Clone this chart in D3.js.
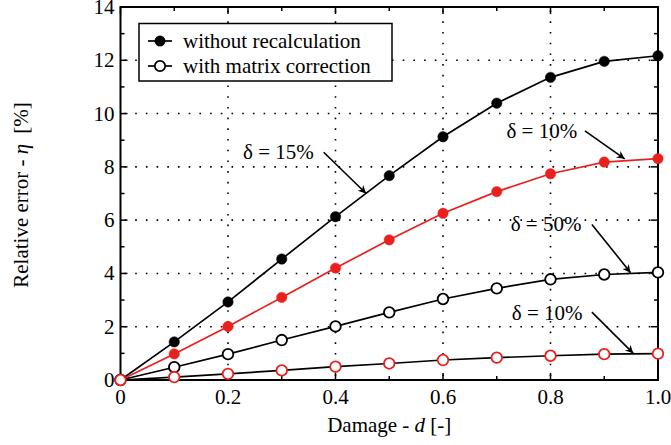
<!DOCTYPE html>
<html><head><meta charset="utf-8">
<script src="https://cdn.jsdelivr.net/npm/d3@7"></script>
<style>body{margin:0;background:#fff}svg{display:block}</style>
</head><body><svg id="c" width="671" height="445" font-family="'Liberation Serif', Tinos, 'Times New Roman', Times, 'DejaVu Serif', serif"></svg>
<script>
const damage = [0,0.1,0.2,0.3,0.4,0.5,0.6,0.7,0.8,0.9,1.0];
const withoutRecalc15 = [0,1.43,2.93,4.54,6.13,7.67,9.13,10.39,11.36,11.96,12.17];
const withoutRecalc10 = [0,0.98,2.01,3.1,4.2,5.26,6.26,7.07,7.74,8.18,8.31];
const matrixCorr50 = [0,0.48,0.97,1.5,2.01,2.54,3.04,3.44,3.78,3.96,4.04];
const matrixCorr10 = [0,0.11,0.23,0.36,0.5,0.62,0.75,0.84,0.91,0.97,0.99];
const xTicks = [0,0.2,0.4,0.6,0.8,1.0];
const xTickLabels = ["0","0.2","0.4","0.6","0.8","1.0"];
const yTicks = [0,2,4,6,8,10,12,14];
const legendLabels = ["without recalculation","with matrix correction"];
const annotations = [
  {label:"δ = 15%", tx:0.228, ty:8.55, ax0:0.378, ay0:8.55, ax1:0.457, ay1:7.0},
  {label:"δ = 10%", tx:0.718, ty:9.35, ax0:0.864, ay0:9.35, ax1:0.938, ay1:8.3},
  {label:"δ = 50%", tx:0.726, ty:5.84, ax0:0.877, ay0:5.84, ax1:0.949, ay1:4.03},
  {label:"δ = 10%", tx:0.728, ty:2.53, ax0:0.877, ay0:2.55, ax1:0.954, ay1:1.0}
];

const svg = d3.select("#c");
const L=120.5, R=658, T=7, B=380;
const x = d3.scaleLinear().domain([0,1]).range([L,R]);
const y = d3.scaleLinear().domain([0,14]).range([B,T]);
const FS = 21;

// grid
const g = svg.append("g");
xTicks.slice(1,-1).forEach(v=>{
  g.append("line").attr("x1",x(v)).attr("x2",x(v)).attr("y1",B).attr("y2",T)
   .attr("stroke","#000").attr("stroke-width",1.6).attr("stroke-dasharray","1.6,9.1").attr("stroke-dashoffset",-4);
});
yTicks.slice(1,-1).forEach(v=>{
  g.append("line").attr("x1",L).attr("x2",R).attr("y1",y(v)).attr("y2",y(v))
   .attr("stroke","#000").attr("stroke-width",1.6).attr("stroke-dasharray","1.6,9.1").attr("stroke-dashoffset",-4);
});

// ticks inside, mirrored
const tk = svg.append("g").attr("stroke","#000").attr("stroke-width",1.5);
d3.range(0,1.0001,0.1).forEach(v=>{
  const major = Math.abs(Math.round(v*10)%2)===0;
  const len = major?7:4;
  tk.append("line").attr("x1",x(v)).attr("x2",x(v)).attr("y1",B).attr("y2",B-len);
  tk.append("line").attr("x1",x(v)).attr("x2",x(v)).attr("y1",T).attr("y2",T+len);
});
d3.range(0,14.001,1).forEach(v=>{
  const major = v%2===0;
  const len = major?7:4;
  tk.append("line").attr("x1",L).attr("x2",L+len).attr("y1",y(v)).attr("y2",y(v));
  tk.append("line").attr("x1",R).attr("x2",R-len).attr("y1",y(v)).attr("y2",y(v));
});

// frame
svg.append("rect").attr("x",L).attr("y",T).attr("width",R-L).attr("height",B-T)
  .attr("fill","none").attr("stroke","#000").attr("stroke-width",2);

// tick labels
xTicks.forEach((v,i)=>{
  svg.append("text").attr("x",x(v)).attr("y",B+23.5).attr("text-anchor","middle").attr("font-size",FS).text(xTickLabels[i]);
});
yTicks.forEach(v=>{
  svg.append("text").attr("x",L-6).attr("y",y(v)+7).attr("text-anchor","end").attr("font-size",FS).text(v);
});

// axis titles
const xt = svg.append("text").attr("x",(L+R)/2).attr("y",432).attr("text-anchor","middle").attr("font-size",FS);
xt.append("tspan").text("Damage - ");
xt.append("tspan").attr("font-style","italic").text("d");
xt.append("tspan").text(" [-]");
const yt = svg.append("text").attr("transform",`translate(28,195) rotate(-90)`).attr("text-anchor","middle").attr("font-size",FS);
yt.append("tspan").text("Relative error - ");
yt.append("tspan").attr("font-style","italic").text("η");
yt.append("tspan").attr("dx",10).text("[%]");

// series
const line = d3.line().x((d,i)=>x(damage[i])).y(d=>y(d));
const series = [
  {data:withoutRecalc15, lineColor:"#000", fill:"#000", stroke:"#000"},
  {data:withoutRecalc10, lineColor:"#e8201e", fill:"#e8201e", stroke:"#e8201e"},
  {data:matrixCorr50, lineColor:"#000", fill:"#fff", stroke:"#000"},
  {data:matrixCorr10, lineColor:"#000", fill:"#fff", stroke:"#e8201e"}
];
series.forEach(s=>{
  svg.append("path").attr("d",line(s.data)).attr("fill","none").attr("stroke",s.lineColor).attr("stroke-width",1.7);
});
series.forEach(s=>{
  const open = s.fill==="#fff";
  svg.append("g").selectAll("circle").data(s.data).join("circle")
    .attr("cx",(d,i)=>x(damage[i])).attr("cy",d=>y(d)).attr("r",open?5.3:5.2)
    .attr("fill",s.fill).attr("stroke",s.stroke).attr("stroke-width",open?1.8:0.5);
});

// annotations
const defs = svg.append("defs");
defs.append("marker").attr("id","ah").attr("viewBox","0 0 10 10").attr("refX",10).attr("refY",5)
  .attr("markerWidth",13).attr("markerHeight",8).attr("markerUnits","userSpaceOnUse").attr("orient","auto")
  .append("path").attr("d","M0,0 L10,5 L0,10 L3,5 Z").attr("fill","#000");
annotations.forEach(a=>{
  svg.append("text").attr("x",x(a.tx)).attr("y",y(a.ty)+7).attr("font-size",FS).text(a.label);
  svg.append("line").attr("x1",x(a.ax0)).attr("y1",y(a.ay0)).attr("x2",x(a.ax1)).attr("y2",y(a.ay1))
    .attr("stroke","#000").attr("stroke-width",1.6).attr("marker-end","url(#ah)");
});

// legend
const lg = svg.append("g");
lg.append("rect").attr("x",139).attr("y",23.5).attr("width",253).attr("height",57.5).attr("fill","#fff").attr("stroke","#000").attr("stroke-width",1.5);
[{fill:"#000"},{fill:"#fff"}].forEach((e,i)=>{
  const cy = 41 + i*25;
  lg.append("line").attr("x1",148).attr("x2",172).attr("y1",cy).attr("y2",cy).attr("stroke","#000").attr("stroke-width",1.7);
  lg.append("circle").attr("cx",160).attr("cy",cy).attr("r",5.2).attr("fill",e.fill).attr("stroke","#000").attr("stroke-width",e.fill==="#fff"?1.8:0.5);
  lg.append("text").attr("x",183).attr("y",cy+6.5).attr("font-size",FS).text(legendLabels[i]);
});
</script></body></html>
